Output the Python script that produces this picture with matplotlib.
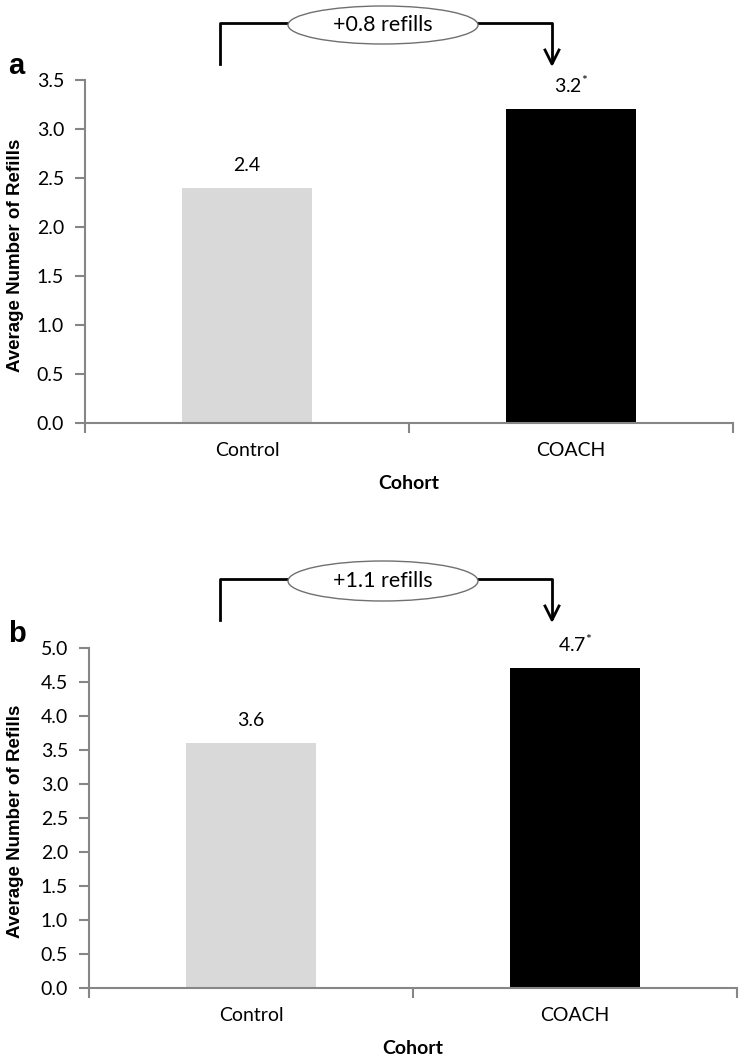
import matplotlib
matplotlib.use("Agg")
import matplotlib.pyplot as plt
from matplotlib.patches import Ellipse

plt.rcParams['font.family'] = ['Lato', 'DejaVu Sans']
plt.rcParams['mathtext.default'] = 'regular'

cohorts = ["Control", "COACH"]
refills_a = [2.4, 3.2]
refills_b = [3.6, 4.7]
labels_a = ["2.4", "3.2$^{*}$"]
labels_b = ["3.6", "4.7$^{*}$"]
diff_a = "+0.8 refills"
diff_b = "+1.1 refills"
colors = ["#d9d9d9", "#000000"]

W, H = 742, 1059
fig = plt.figure(figsize=(W / 100, H / 100), dpi=100)
grey = "#868686"


def fx(px):
    return px / W


def fy(py):
    return 1 - py / H


def panel(rect, vals, labels, ymax, letter, diff, ytop_px, bracket_y, bracket_bot, ell_h):
    ax = fig.add_axes(rect)
    x = range(len(cohorts))
    ax.bar(x, vals, width=0.4, color=colors)
    ax.set_xlim(-0.5, 1.5)
    ax.set_ylim(0, ymax)
    n = int(ymax * 2) + 1
    ax.set_yticks([i * 0.5 for i in range(n)])
    ax.set_yticklabels(["%.1f" % (i * 0.5) for i in range(n)], fontsize=14)
    ax.set_xticks(list(x))
    ax.set_xticklabels(cohorts, fontsize=14)
    ax.set_xticks([-0.5, 0.5, 1.5], minor=True)
    ax.tick_params(axis='x', which='major', length=0, pad=14)
    ax.tick_params(axis='x', which='minor', length=7, color=grey, width=1.5)
    ax.tick_params(axis='y', length=7, color=grey, width=1.5, pad=8)
    for s in ["top", "right"]:
        ax.spines[s].set_visible(False)
    for s in ["left", "bottom"]:
        ax.spines[s].set_color(grey)
        ax.spines[s].set_linewidth(1.5)
    ax.set_xlabel("Cohort", fontsize=14, fontweight='bold', labelpad=11)
    ax.set_ylabel("Average Number of Refills", fontsize=13.5, fontweight='bold',
                  family=['Liberation Sans', 'DejaVu Sans'])
    ax.yaxis.set_label_coords(-(rect[0] * W - 24) / (rect[2] * W), 0.49)
    for xi, v, lab in zip(x, vals, labels):
        ax.annotate(lab, (xi, v), xytext=(0, 10), textcoords='offset points',
                    ha='center', va='bottom', fontsize=14)

    # panel letter
    fig.text(fx(8), fy(ytop_px - 14), letter, fontsize=21, fontweight='bold',
             family=['Liberation Sans', 'DejaVu Sans'], va='center', ha='left')
    # bracket with arrow
    lx, rx = 220, 552
    fig.add_artist(plt.Line2D([fx(lx), fx(lx), fx(rx), fx(rx)],
                              [fy(bracket_bot), fy(bracket_y), fy(bracket_y), fy(bracket_bot - 2)],
                              color='black', lw=2, zorder=2))
    fig.add_artist(plt.Line2D([fx(rx - 7), fx(rx), fx(rx + 7)],
                              [fy(bracket_bot - 14), fy(bracket_bot), fy(bracket_bot - 14)],
                              color='black', lw=2, zorder=2))
    cx = 383
    cy = bracket_y + 2
    e = Ellipse((fx(cx), fy(cy)), fx(190), ell_h / H, transform=fig.transFigure,
                facecolor='white', edgecolor='#707070', lw=1.0, zorder=3)
    fig.add_artist(e)
    fig.text(fx(cx), fy(cy), diff, ha='center', va='center', fontsize=15.5, zorder=4)
    return ax


panel([fx(85), fy(423), fx(733 - 85), (423 - 80) / H], refills_a, labels_a, 3.5,
      "a", diff_a, 80, 23, 64, 38)
panel([fx(89), fy(988), fx(737 - 89), (988 - 648) / H], refills_b, labels_b, 5.0,
      "b", diff_b, 648, 579, 620, 40)

fig.savefig("out.png", dpi=100)
